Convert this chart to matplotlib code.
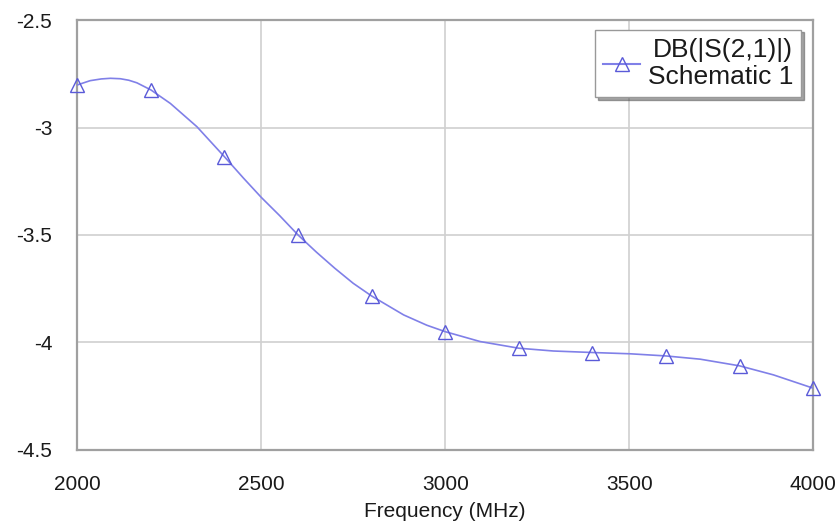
import matplotlib.pyplot as plt

plt.rcParams['font.family'] = ['Liberation Sans', 'DejaVu Sans']

# curve
freq = [2000, 2035, 2065, 2090, 2117, 2140, 2162, 2200, 2253, 2325, 2400, 2452,
        2500, 2550, 2600, 2650, 2700, 2750, 2800, 2887, 2950, 3000, 3095,
        3200, 3294, 3400, 3503, 3600, 3693, 3800, 3892, 4000]
s21 = [-2.802, -2.782, -2.774, -2.771, -2.773, -2.780, -2.792, -2.825, -2.888, -2.996, -3.136, -3.236,
       -3.325, -3.41, -3.50, -3.58, -3.655, -3.725, -3.784, -3.872, -3.92, -3.950, -3.996,
       -4.027, -4.040, -4.047, -4.053, -4.063, -4.078, -4.109, -4.151, -4.213]

# marker points
mk_freq = [2000, 2200, 2400, 2600, 2800, 3000, 3200, 3400, 3600, 3800, 4000]
mk_s21 = [-2.802, -2.825, -3.136, -3.50, -3.784, -3.950, -4.027, -4.047, -4.063, -4.109, -4.213]

color = '#8080e8'
mcolor = '#5a5ad8'

fig = plt.figure(figsize=(8.4, 5.28), dpi=100)
ax = fig.add_axes([0.092, 0.148, 0.876, 0.814])

ax.plot(freq, s21, '-', color=color, lw=1.2, zorder=3)
ax.plot(mk_freq, mk_s21, '^', color=color, mfc='none', mec=mcolor, ms=10, mew=1.0,
        clip_on=False, zorder=4)
# legend proxy
ax.plot([], [], '-^', color=color, mfc='none', mec=mcolor, ms=10, mew=1.0,
        label='DB(|S(2,1)|)\nSchematic 1')

ax.set_xlim(2000, 4000)
ax.set_ylim(-4.5, -2.5)
ax.set_xticks([2000, 2500, 3000, 3500, 4000])
ax.set_yticks([-4.5, -4, -3.5, -3, -2.5])
ax.set_yticklabels(['-4.5', '-4', '-3.5', '-3', '-2.5'])
ax.tick_params(length=0, labelsize=15, colors='#1a1a1a')
ax.tick_params(axis='x', pad=18)
ax.tick_params(axis='y', pad=18)
ax.set_xlabel('Frequency (MHz)', fontsize=15, labelpad=6, color='#1a1a1a')

ax.grid(True, color='#d0d0d0', lw=1.2)
ax.set_axisbelow(True)
for s in ax.spines.values():
    s.set_color('#a0a0a0')
    s.set_linewidth(1.6)

leg = ax.legend(loc='upper right', bbox_to_anchor=(0.991, 0.99), fontsize=19,
                fancybox=False, shadow=True, handlelength=1.4, borderpad=0.3,
                handletextpad=0.3, borderaxespad=0.2, framealpha=1,
                labelspacing=0.2)
leg.get_frame().set_edgecolor('#999999')
for t in leg.get_texts():
    t.set_multialignment('right')
    t.set_color('#1a1a1a')

fig.savefig('out.png', dpi=100)
